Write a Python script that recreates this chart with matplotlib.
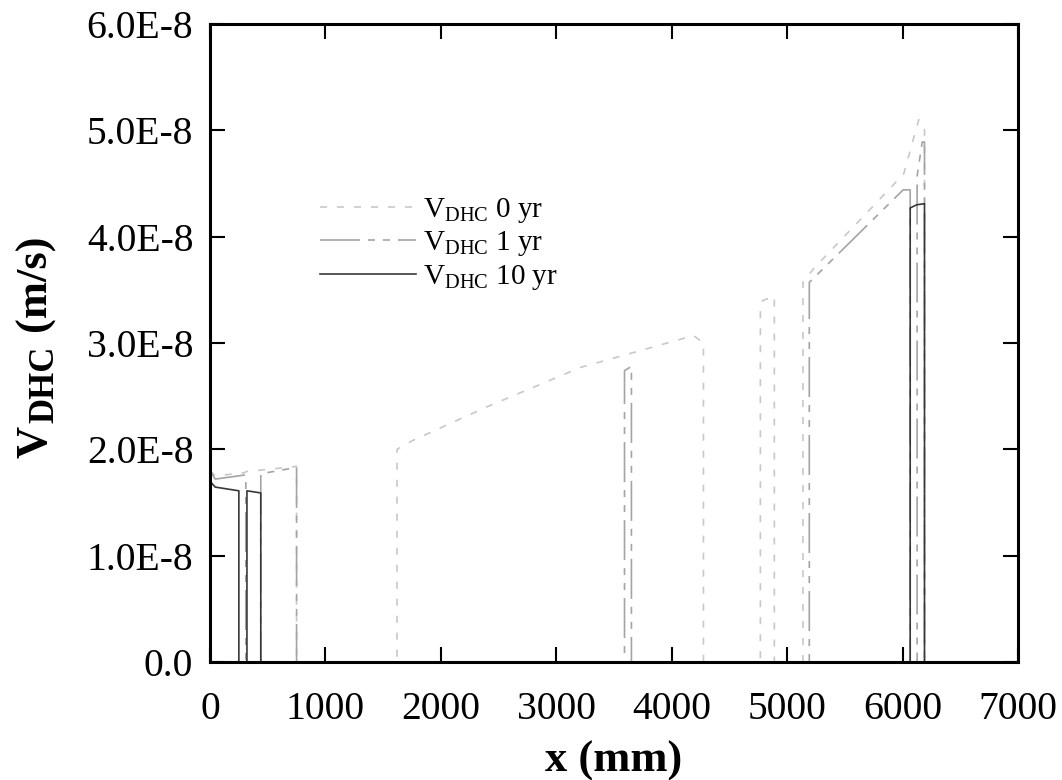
import numpy as np
import matplotlib
matplotlib.use('Agg')
import matplotlib.pyplot as plt
from matplotlib.ticker import FuncFormatter, MultipleLocator

plt.rcParams['font.family'] = ['Liberation Serif', 'DejaVu Serif']
plt.rcParams['mathtext.fontset'] = 'custom'
plt.rcParams['mathtext.rm'] = 'Liberation Serif'
plt.rcParams['mathtext.bf'] = 'Liberation Serif:bold'

W, H = 1062., 780.

# crack velocity profiles along the tube (units of 1E-8 m/s), zero where no DHC
x_0yr = [0, 45, 300, 310, 750, 750, 1620, 1620, 1750, 2400, 3210, 3700, 4190, 4275, 4275,
         4768, 4768, 4790, 4889, 4889, 5137, 5137, 5230, 6010, 6140, 6190, 6190]
v_0yr = [1.80, 1.75, 1.78, 1.79, 1.84, 0, 0, 2.00, 2.08, 2.40, 2.77, 2.92, 3.07, 3.00, 0,
         0, 3.36, 3.40, 3.44, 0, 0, 3.57, 3.70, 4.59, 5.10, 5.02, 0]

x_1yr = [0, 45, 310, 310, 440, 440, 750, 750, 3591, 3591, 3651, 3651,
         5192, 5192, 6005, 6066, 6066, 6126, 6126, 6170, 6190, 6190]
v_1yr = [1.80, 1.72, 1.76, 0, 0, 1.77, 1.83, 0, 0, 2.74, 2.78, 0,
         0, 3.57, 4.44, 4.44, 0, 0, 4.57, 4.89, 4.89, 0]

x_10yr = [0, 45, 250, 250, 320, 320, 440, 440, 6066, 6066, 6123, 6190, 6190]
v_10yr = [1.70, 1.645, 1.61, 0, 0, 1.61, 1.59, 0, 0, 4.27, 4.30, 4.31, 0]

labels = [r'V$_{\mathrm{DHC}}$ 0 yr', r'V$_{\mathrm{DHC}}$ 1 yr', r'V$_{\mathrm{DHC}}$ 10 yr']


def sci_fmt(v, pos):
    if abs(v) < 1e-20:
        return '0.0'
    m, e = ('%.1E' % v).split('E')
    return m + 'E' + str(int(e))


def px_dash(seq, lw):
    # dash pattern given in pixels -> points scaled by linewidth
    return [s * 0.72 / lw for s in seq]


lw = 1.2
fig = plt.figure(figsize=(10.62, 7.80), dpi=100)
ax = fig.add_axes([210/W, 1 - 662/H, 808/W, 638/H])

ax.plot(x_0yr, np.array(v_0yr)*1e-8, color='#c8c8c8', lw=lw,
        dashes=px_dash([7, 10], lw), label=labels[0])
ax.plot(x_1yr, np.array(v_1yr)*1e-8, color='#a4a4a4', lw=lw,
        dashes=px_dash([40, 8, 7, 8, 7, 8], lw), label=labels[1])
ax.plot(x_10yr, np.array(v_10yr)*1e-8, color='#383838', lw=lw, label=labels[2])

ax.set_xlim(0, 7000)
ax.set_ylim(0, 6e-8)
ax.xaxis.set_major_locator(MultipleLocator(1000))
ax.yaxis.set_major_locator(MultipleLocator(1e-8))
ax.yaxis.set_major_formatter(FuncFormatter(sci_fmt))
ax.tick_params(direction='in', length=11, width=1.5, labelsize=28.5,
               top=True, right=True)
ax.tick_params(axis='x', pad=21)
ax.tick_params(axis='y', pad=12)
for s in ax.spines.values():
    s.set_linewidth(2.2)

# axis titles
fig.text(614/W, 1 - 772/H, 'x (mm)', fontsize=32, fontweight='bold',
         ha='center', va='baseline')
ylab = dict(rotation=90, rotation_mode='anchor', ha='left', va='baseline',
            fontweight='bold')
fig.text(46/W, 1 - 458/H, 'V', fontsize=32, **ylab)
fig.text(53/W, 1 - 423/H, 'DHC', fontsize=25, **ylab)
fig.text(46/W, 1 - 331/H, '(m/s)', fontsize=32, **ylab)

leg = ax.legend(loc='upper left', bbox_to_anchor=(320/W, 1 - 196/H),
                bbox_transform=fig.transFigure, frameon=False, borderpad=0,
                borderaxespad=0, fontsize=21, handlelength=3.3,
                handletextpad=0.24, labelspacing=0.15)

fig.savefig('out.png', dpi=100)
